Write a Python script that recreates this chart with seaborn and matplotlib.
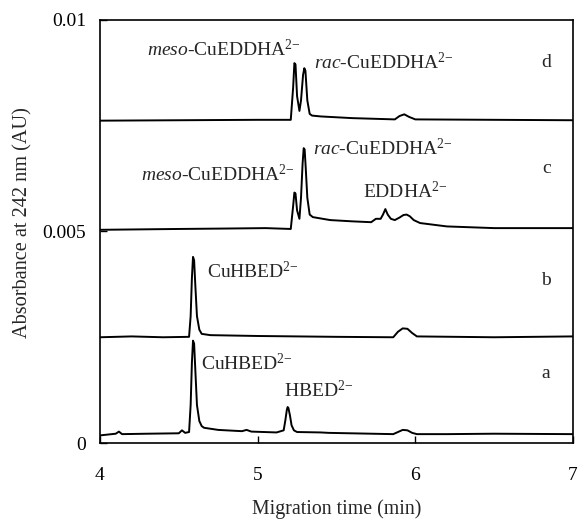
import matplotlib
matplotlib.use("Agg")
import matplotlib.pyplot as plt
import seaborn as sns
import pandas as pd

# ---- data (migration time in min, absorbance in AU) ----
t_a = [4.00, 4.10, 4.12, 4.14, 4.30, 4.50, 4.52, 4.54, 4.565, 4.575, 4.583, 4.59, 4.597,
       4.605, 4.615, 4.63, 4.645, 4.66, 4.75, 4.90, 4.93, 4.96, 5.12, 5.165, 5.175, 5.185,
       5.19, 5.195, 5.205, 5.215, 5.23, 5.25, 5.40, 5.45, 5.86, 5.89, 5.92, 5.95, 5.98, 6.01,
       6.20, 6.50, 7.00]
A_a = [0.00018, 0.00022, 0.00027, 0.00021, 0.00022, 0.00023, 0.00030, 0.00024, 0.00026,
       0.0009, 0.0019, 0.00242, 0.00235, 0.0017, 0.0009, 0.00052, 0.00040, 0.00036, 0.00031,
       0.00028, 0.00031, 0.00027, 0.00025, 0.00030, 0.00052, 0.00078, 0.00085, 0.00083,
       0.00065, 0.00042, 0.00030, 0.00026, 0.00025, 0.00024, 0.00021, 0.00026, 0.00031,
       0.00030, 0.00024, 0.00021, 0.00021, 0.00022, 0.00021]

t_b = [4.00, 4.20, 4.40, 4.565, 4.575, 4.583, 4.59, 4.597, 4.605, 4.615, 4.63, 4.645, 4.70,
       5.00, 5.50, 5.86, 5.89, 5.92, 5.95, 5.98, 6.01, 6.50, 7.00]
A_b = [0.00250, 0.00252, 0.00250, 0.00251, 0.0030, 0.0039, 0.00440, 0.00432, 0.0037,
       0.0030, 0.00268, 0.00258, 0.00255, 0.00253, 0.00251, 0.00250, 0.00263, 0.00271,
       0.00270, 0.00260, 0.00252, 0.00250, 0.00252]

t_c = [4.00, 4.50, 4.80, 5.05, 5.21, 5.225, 5.233, 5.24, 5.25, 5.265, 5.275, 5.285, 5.292,
       5.298, 5.305, 5.315, 5.33, 5.35, 5.46, 5.60, 5.72, 5.75, 5.78, 5.795, 5.81, 5.825,
       5.845, 5.87, 5.90, 5.925, 5.945, 5.965, 5.99, 6.03, 6.20, 6.50, 7.00]
A_c = [0.00504, 0.00506, 0.00507, 0.00508, 0.00506, 0.0056, 0.00592, 0.00590, 0.0055,
       0.0053, 0.0058, 0.0066, 0.00697, 0.00694, 0.0065, 0.0058, 0.0054, 0.00534, 0.00527,
       0.00524, 0.00522, 0.0053, 0.0053, 0.0054, 0.00553, 0.0054, 0.0053, 0.00527, 0.00533,
       0.00539, 0.0054, 0.00536, 0.00527, 0.0052, 0.00512, 0.00508, 0.00508]

t_d = [4.00, 4.50, 5.00, 5.21, 5.225, 5.233, 5.24, 5.25, 5.265, 5.275, 5.288, 5.296, 5.303,
       5.315, 5.33, 5.345, 5.40, 5.60, 5.87, 5.90, 5.93, 5.96, 6.00, 6.50, 7.00]
A_d = [0.00762, 0.00763, 0.00764, 0.00764, 0.0084, 0.00898, 0.00895, 0.0082, 0.00785,
       0.0081, 0.0087, 0.00886, 0.0088, 0.0081, 0.00778, 0.00774, 0.00772, 0.00768, 0.00765,
       0.00773, 0.00777, 0.00771, 0.00765, 0.00764, 0.00763]

x_ticks = [4, 5, 6, 7]
y_ticks = [0, 0.005, 0.01]
y_tick_labels = ["0", "0.005", "0.01"]

df = pd.concat([
    pd.DataFrame({"t": t_a, "A": A_a, "trace": "a"}),
    pd.DataFrame({"t": t_b, "A": A_b, "trace": "b"}),
    pd.DataFrame({"t": t_c, "A": A_c, "trace": "c"}),
    pd.DataFrame({"t": t_d, "A": A_d, "trace": "d"}),
], ignore_index=True)

sns.set_theme(style="ticks")
plt.rcParams["font.family"] = ["Liberation Serif", "DejaVu Serif"]
plt.rcParams["mathtext.fontset"] = "custom"
plt.rcParams["mathtext.rm"] = "Liberation Serif"
plt.rcParams["mathtext.it"] = "Liberation Serif:italic"

fig = plt.figure(figsize=(5.78, 5.19), dpi=100)
ax = fig.add_axes([0.173, 0.1464, 0.8183, 0.8151])

sns.lineplot(data=df, x="t", y="A", units="trace", estimator=None, sort=False,
             color="black", linewidth=1.4, ax=ax, legend=False)

ax.set_xlim(4, 7)
ax.set_ylim(0, 0.01)
ax.set_xticks(x_ticks)
ax.set_xticklabels([str(v) for v in x_ticks])
ax.set_yticks(y_ticks)
ax.set_yticklabels(y_tick_labels)
ax.tick_params(direction="in", length=5, width=1, labelsize=14, colors="black")
ax.tick_params(axis="x", pad=17)
ax.tick_params(axis="y", pad=10)
for s in ax.spines.values():
    s.set_linewidth(1.2)
    s.set_color("black")
    s.set_visible(True)

ax.set_xlabel("Migration time (min)", fontsize=14.3, labelpad=11)
ax.set_ylabel("Absorbance at 242 nm (AU)", fontsize=14.6)
ax.yaxis.set_label_coords(-0.142, 0.522)

fs = 14
sup = r"$^{2\mathrm{-}}$"
ax.text(4.30, 0.00931, r"$\mathit{meso}$-CuEDDHA" + sup, fontsize=fs, va="center", ha="left")
ax.text(5.36, 0.0090, r"$\mathit{rac}$-CuEDDHA" + sup, fontsize=fs, va="center", ha="left")
ax.text(6.83, 0.0090, "d", fontsize=fs, va="center", ha="center")
ax.text(5.35, 0.00697, r"$\mathit{rac}$-CuEDDHA" + sup, fontsize=fs, va="center", ha="left")
ax.text(6.83, 0.0065, "c", fontsize=fs, va="center", ha="center")
ax.text(4.26, 0.00634, r"$\mathit{meso}$-CuEDDHA" + sup, fontsize=fs, va="center", ha="left")
ax.text(5.67, 0.00594, "EDDHA" + sup, fontsize=fs, va="center", ha="left")
ax.text(4.68, 0.00405, "CuHBED" + sup, fontsize=fs, va="center", ha="left")
ax.text(6.83, 0.00383, "b", fontsize=fs, va="center", ha="center")
ax.text(4.64, 0.00189, "CuHBED" + sup, fontsize=fs, va="center", ha="left")
ax.text(6.83, 0.00165, "a", fontsize=fs, va="center", ha="center")
ax.text(5.17, 0.00125, "HBED" + sup, fontsize=fs, va="center", ha="left")

fig.savefig("out.png", dpi=100)
